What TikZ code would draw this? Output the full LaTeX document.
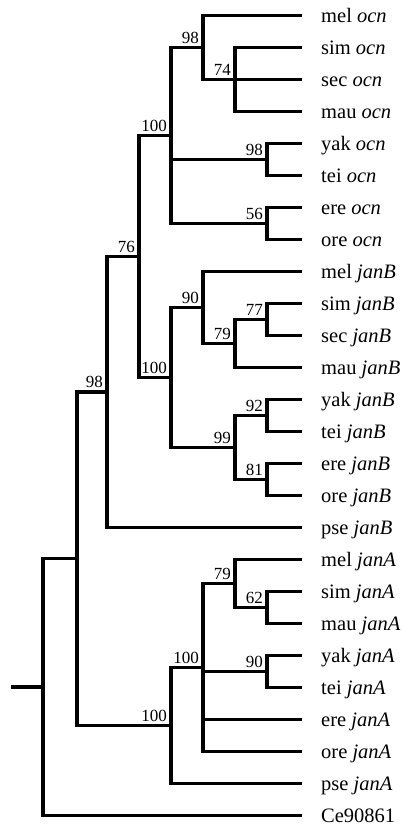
\documentclass[tikz,border=0pt]{standalone}
\usepackage{fontspec}
\setmainfont{Liberation Serif}
\begin{document}
\begin{tikzpicture}[x=1pt,y=-1pt,
  branch/.style={line width=3.3pt,line cap=butt,line join=miter},
  leaflab/.style={anchor=base west,inner sep=0pt,font=\fontsize{20.5}{24}\selectfont},
  boot/.style={anchor=base east,inner sep=0pt,font=\fontsize{17}{20}\selectfont}]
\useasboundingbox (0,0) rectangle (403,827);
% leaves
\foreach \i/\t in {0/mel \textit{ocn},1/sim \textit{ocn},2/sec \textit{ocn},3/mau \textit{ocn},
  4/yak \textit{ocn},5/tei \textit{ocn},6/ere \textit{ocn},7/ore \textit{ocn},
  8/mel \textit{janB},9/sim \textit{janB},10/sec \textit{janB},11/mau \textit{janB},
  12/yak \textit{janB},13/tei \textit{janB},14/ere \textit{janB},15/ore \textit{janB},
  16/pse \textit{janB},17/mel \textit{janA},18/sim \textit{janA},19/mau \textit{janA},
  20/yak \textit{janA},21/tei \textit{janA},22/ere \textit{janA},23/ore \textit{janA},
  24/pse \textit{janA},25/Ce90861}{
  \coordinate (l\i) at (302,15.5+32*\i);
  \node[leaflab] (t\i) at (321,22.5+32*\i) {\t};
}
% internal nodes
\coordinate (stub) at (11,687);
\coordinate (root) at (43,687);
\coordinate (A) at (77,558.75);
\coordinate (B) at (107,392);
\coordinate (C) at (139,256.5);
\coordinate (D) at (171,135.5);
\coordinate (E) at (203,47.5);
\coordinate (F) at (235,79.5);
\coordinate (YT) at (267,159.5);
\coordinate (EO) at (267,223.5);
\coordinate (G) at (171,377.5);
\coordinate (H) at (203,307.5);
\coordinate (I) at (235,343.5);
\coordinate (J) at (267,319.5);
\coordinate (K) at (235,447.5);
\coordinate (L) at (267,415.5);
\coordinate (M) at (267,479.5);
\coordinate (N) at (171,725.5);
\coordinate (O) at (203,667.5);
\coordinate (P) at (235,583.5);
\coordinate (Q) at (267,607.5);
\coordinate (R) at (267,671.5);
% branches
\draw[branch] (stub) -- (root);
\foreach \p/\c in {root/A,root/l25,A/B,A/N,B/C,B/l16,C/D,C/G,
  D/E,D/YT,D/EO,E/l0,E/F,F/l1,F/l2,F/l3,YT/l4,YT/l5,EO/l6,EO/l7,
  G/H,G/K,H/l8,H/I,I/J,I/l11,J/l9,J/l10,K/L,K/M,L/l12,L/l13,M/l14,M/l15,
  N/O,N/l24,O/P,O/R,O/l22,O/l23,P/l17,P/Q,Q/l18,Q/l19,R/l20,R/l21}{
  \draw[branch] (\p) |- (\c);
}
% bootstrap values
\foreach \n/\v in {B/98,C/76,D/100,E/98,F/74,YT/98,EO/56,G/100,H/90,I/79,J/77,
  K/99,L/92,M/81,N/100,O/100,P/79,Q/62,R/90}{
  \node[boot] (bs\n) at ([xshift=-4pt,yshift=4.5pt]\n) {\v};
}
\end{tikzpicture}
\end{document}
